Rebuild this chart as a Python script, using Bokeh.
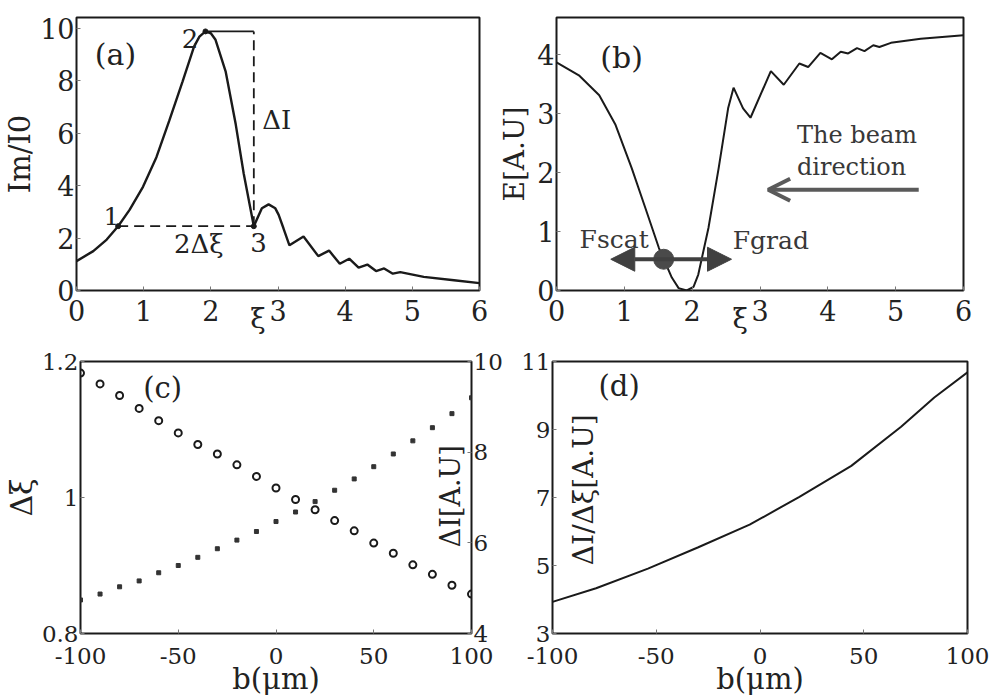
import math
from bokeh.plotting import figure
from bokeh.models import (Range1d, LinearAxis, FixedTicker, Label, Arrow,
                          OpenHead, NormalHead, CustomJSTickFormatter)
from bokeh.layouts import column, row
from bokeh.embed import file_html
from bokeh.resources import INLINE

# ---------------- data ----------------
# (a) normalized intensity Im/I0 versus xi
a_xi = [0.0, 0.25, 0.45, 0.62, 0.79, 0.99, 1.19, 1.38, 1.58, 1.75, 1.83, 1.92, 2.0, 2.07,
        2.22, 2.37, 2.49, 2.64, 2.76, 2.86, 2.96, 3.01, 3.08, 3.17, 3.38, 3.60, 3.76,
        3.92, 4.06, 4.20, 4.33, 4.46, 4.58, 4.71, 4.82, 5.17, 5.62, 6.0]
a_im = [1.12, 1.50, 1.94, 2.45, 3.07, 3.95, 5.08, 6.46, 7.97, 9.29, 9.67, 9.87, 9.80, 9.55,
        8.35, 6.34, 4.45, 2.45, 3.13, 3.28, 3.13, 2.88, 2.38, 1.72, 2.06, 1.31, 1.52,
        1.02, 1.21, 0.87, 0.99, 0.74, 0.84, 0.64, 0.70, 0.52, 0.39, 0.28]
a_pts_xi = [0.62, 1.92, 2.64]          # points 1, 2, 3
a_pts_im = [2.45, 9.87, 2.45]
a_pt_names = ["1", "2", "3"]

# (b) potential E versus xi
b_xi = [0.0, 0.33, 0.63, 0.87, 1.11, 1.31, 1.51, 1.70, 1.80, 1.92, 2.02, 2.09, 2.24,
        2.39, 2.53, 2.61, 2.75, 2.86, 3.16, 3.35, 3.58, 3.71, 3.89, 4.06, 4.19, 4.30,
        4.43, 4.54, 4.67, 4.76, 4.93, 5.37, 6.0]
b_e = [3.87, 3.65, 3.31, 2.81, 2.07, 1.40, 0.72, 0.22, 0.04, 0.0, 0.06, 0.27, 1.06,
       2.07, 3.09, 3.44, 3.09, 2.93, 3.72, 3.49, 3.85, 3.79, 4.03, 3.92, 4.05, 4.02,
       4.11, 4.06, 4.16, 4.13, 4.20, 4.27, 4.33]
b_beam_x = [5.34, 3.12]
b_beam_y = [1.71, 1.71]
b_force_x = [0.80, 2.58]
b_force_y = [0.53, 0.53]
b_particle_x = [1.58]
b_particle_y = [0.53]

# (c) delta xi (circles, left axis) and delta I (squares, right axis) versus b
c_b = [-100, -90, -80, -70, -60, -50, -40, -30, -20, -10, 0,
       10, 20, 30, 40, 50, 60, 70, 80, 90, 100]
c_dxi = [1.183, 1.167, 1.150, 1.131, 1.113, 1.095, 1.078, 1.064, 1.048, 1.031, 1.014,
         0.997, 0.982, 0.966, 0.951, 0.933, 0.918, 0.901, 0.887, 0.871, 0.858]
c_di = [4.74, 4.87, 5.03, 5.16, 5.34, 5.50, 5.68, 5.87, 6.06, 6.25, 6.47,
        6.68, 6.91, 7.16, 7.41, 7.68, 7.96, 8.25, 8.54, 8.85, 9.20]

# (d) delta I / delta xi versus b
d_b = [-100, -79, -54, -30, -5, 19, 44, 68, 84, 100]
d_ratio = [3.93, 4.33, 4.91, 5.53, 6.20, 7.02, 7.93, 9.08, 9.94, 10.68]

xi_ticks = [0, 1, 2, 3, 4, 5, 6]
a_yticks = [0, 2, 4, 6, 8, 10]
b_yticks = [0, 1, 2, 3, 4]
b_ticks = [-100, -50, 0, 50, 100]
c_yticks = [0.8, 1, 1.2]
c_rticks = [4, 6, 8, 10]
d_yticks = [3, 5, 7, 9, 11]
a_xi_label_at = 2.70
b_xi_label_at = 2.71

# ---------------- style ----------------
FONT = "DejaVu Serif"
INK = "#1a1a1a"
TXT = "#222222"
ANN = "#383838"
LH = 0.9


def make_fig(w, h, xr, yr, left, right, top, bottom):
    p = figure(width=w, height=h, x_range=Range1d(*xr), y_range=Range1d(*yr),
               output_backend="svg", toolbar_location=None, title=None,
               min_border_left=left, min_border_right=right,
               min_border_top=top, min_border_bottom=bottom)
    p.grid.visible = False
    p.outline_line_color = "#1a1a1a"
    p.outline_line_width = 2
    p.background_fill_color = "white"
    p.border_fill_color = "white"
    return p


def style_axis(ax, size, ticks):
    ax.ticker = FixedTicker(ticks=ticks)
    ax.formatter = CustomJSTickFormatter(code="return String(tick);")
    ax.minor_tick_line_color = None
    ax.major_tick_in = 4
    ax.major_tick_out = 0
    ax.major_tick_line_color = "#777777"
    ax.axis_line_color = None
    ax.major_label_text_font = FONT
    ax.major_label_text_font_size = f"{size}px"
    ax.major_label_text_color = TXT
    ax.major_label_text_line_height = LH
    ax.axis_label_text_font = FONT
    ax.axis_label_text_font_style = "normal"
    ax.axis_label_text_color = TXT
    ax.axis_label_text_line_height = LH


def xi_axis(p, at, standoff):
    ax = LinearAxis(ticker=FixedTicker(ticks=[at]),
                    formatter=CustomJSTickFormatter(code="return 'ξ';"))
    ax.major_tick_line_color = None
    ax.minor_tick_line_color = None
    ax.axis_line_color = None
    ax.major_label_text_font = FONT
    ax.major_label_text_font_size = "28px"
    ax.major_label_text_color = TXT
    ax.major_label_text_line_height = LH
    ax.major_label_standoff = standoff
    p.add_layout(ax, "below")


def lab(p, x, y, text, size, align="center", angle=0, color=TXT, y_range_name="default"):
    p.add_layout(Label(x=x, y=y, text=text, text_font=FONT, text_font_size=f"{size}px",
                       text_color=color, text_align=align, text_baseline="middle",
                       angle=angle, y_range_name=y_range_name))


# ---------------- (a) ----------------
pa = make_fig(495, 340, (0, 6), (0, 10.4), 73, 16, 17, 46)
style_axis(pa.xaxis[0], 27, xi_ticks)
style_axis(pa.yaxis[0], 27, a_yticks)
pa.xaxis[0].major_label_standoff = 9
pa.yaxis[0].major_label_standoff = 2
pa.yaxis[0].axis_label = "Im/I0"
pa.yaxis[0].axis_label_text_font_size = "29px"
pa.yaxis[0].axis_label_standoff = 0
xi_axis(pa, a_xi_label_at, -28)
pa.line(a_xi, a_im, line_color=INK, line_width=2.4)
pa.line([a_pts_xi[0], a_pts_xi[2]], [a_pts_im[0], a_pts_im[2]], line_color=INK,
        line_width=1.8, line_dash="10 6")
pa.line([a_pts_xi[2], a_pts_xi[2]], [a_pts_im[2], a_pts_im[1]], line_color=INK,
        line_width=1.8, line_dash="10 6")
pa.line([a_pts_xi[1], a_pts_xi[2]], [a_pts_im[1], a_pts_im[1]], line_color=INK, line_width=1.8)
pa.scatter(a_pts_xi, a_pts_im, size=5, fill_color=INK, line_color=INK)
lab(pa, 0.58, 8.98, "(a)", 30)
lab(pa, 0.52, 2.85, a_pt_names[0], 25)
lab(pa, 1.69, 9.61, a_pt_names[1], 26)
lab(pa, 2.71, 1.81, a_pt_names[2], 26)
lab(pa, 1.82, 1.77, "2Δξ", 26)
lab(pa, 2.98, 6.49, "ΔI", 26)

# ---------------- (b) ----------------
pb = make_fig(503, 340, (0, 6), (0, 4.63), 59, 35, 15, 50)
style_axis(pb.xaxis[0], 27, xi_ticks)
style_axis(pb.yaxis[0], 27, b_yticks)
pb.xaxis[0].major_label_standoff = 9
pb.yaxis[0].major_label_standoff = 2
pb.yaxis[0].axis_label = "E[A.U]"
pb.yaxis[0].axis_label_text_font_size = "28px"
pb.yaxis[0].axis_label_standoff = 3
xi_axis(pb, b_xi_label_at, -28)
pb.line(b_xi, b_e, line_color=INK, line_width=2.0)
pb.add_layout(Arrow(end=OpenHead(size=22, line_color="#5a5a5a", line_width=4),
                    x_start=b_beam_x[0], y_start=b_beam_y[0],
                    x_end=b_beam_x[1], y_end=b_beam_y[1],
                    line_color="#5a5a5a", line_width=4))
pb.add_layout(Arrow(start=NormalHead(size=24, fill_color="#404040", line_color="#404040"),
                    end=NormalHead(size=24, fill_color="#404040", line_color="#404040"),
                    x_start=b_force_x[0], y_start=b_force_y[0],
                    x_end=b_force_x[1], y_end=b_force_y[1],
                    line_color="#404040", line_width=4))
pb.scatter(b_particle_x, b_particle_y, size=20, fill_color="#4a4a4a", line_color="#4a4a4a")
lab(pb, 0.96, 3.96, "(b)", 30)
lab(pb, 4.43, 2.63, "The beam", 24, color=ANN)
lab(pb, 4.35, 2.09, "direction", 24, color=ANN)
lab(pb, 0.85, 0.87, "Fscat", 25, color=ANN)
lab(pb, 3.16, 0.85, "Fgrad", 25, color=ANN)

# ---------------- (c) ----------------
pc = make_fig(505, 360, (-100, 100), (0.8, 1.2), 76, 29, 21, 64)
pc.extra_y_ranges = {"di": Range1d(4, 10)}
style_axis(pc.xaxis[0], 23, b_ticks)
style_axis(pc.yaxis[0], 23, c_yticks)
rax = LinearAxis(y_range_name="di")
style_axis(rax, 23, c_rticks)
pc.add_layout(rax, "right")
pc.xaxis[0].major_label_standoff = 14
pc.xaxis[0].axis_label = "b(μm)"
pc.xaxis[0].axis_label_text_font_size = "29px"
pc.xaxis[0].axis_label_standoff = -5
pc.yaxis[0].axis_label = "Δξ"
pc.yaxis[0].axis_label_text_font_size = "30px"
pc.yaxis[0].axis_label_standoff = 0
pc.yaxis[0].major_label_standoff = 2
rax.major_label_standoff = 2
pc.scatter(c_b, c_dxi, marker="circle", size=7, fill_color=None, line_color=INK, line_width=2)
pc.scatter(c_b, c_di, marker="square", size=4, fill_color="#333333", line_color="#333333",
           y_range_name="di")
lab(pc, -58, 1.161, "(c)", 29)
lab(pc, 89.5, 1.002, "ΔI[A.U]", 27, angle=math.pi / 2)

# ---------------- (d) ----------------
pd_ = make_fig(493, 360, (-100, 100), (3, 11), 47, 31, 15, 67)
style_axis(pd_.xaxis[0], 23, b_ticks)
style_axis(pd_.yaxis[0], 23, d_yticks)
pd_.xaxis[0].major_label_standoff = 14
pd_.xaxis[0].axis_label = "b(μm)"
pd_.xaxis[0].axis_label_text_font_size = "29px"
pd_.xaxis[0].axis_label_standoff = -5
pd_.yaxis[0].major_label_standoff = 2
pd_.line(d_b, d_ratio, line_color=INK, line_width=2.0)
lab(pd_, -67.9, 10.28, "(d)", 29)
lab(pd_, -85, 7.23, "ΔI/Δξ[A.U]", 28, angle=math.pi / 2)

layout = column(row(pa, pb), row(pc, pd_))
open("out.html", "w").write(file_html(layout, INLINE))
